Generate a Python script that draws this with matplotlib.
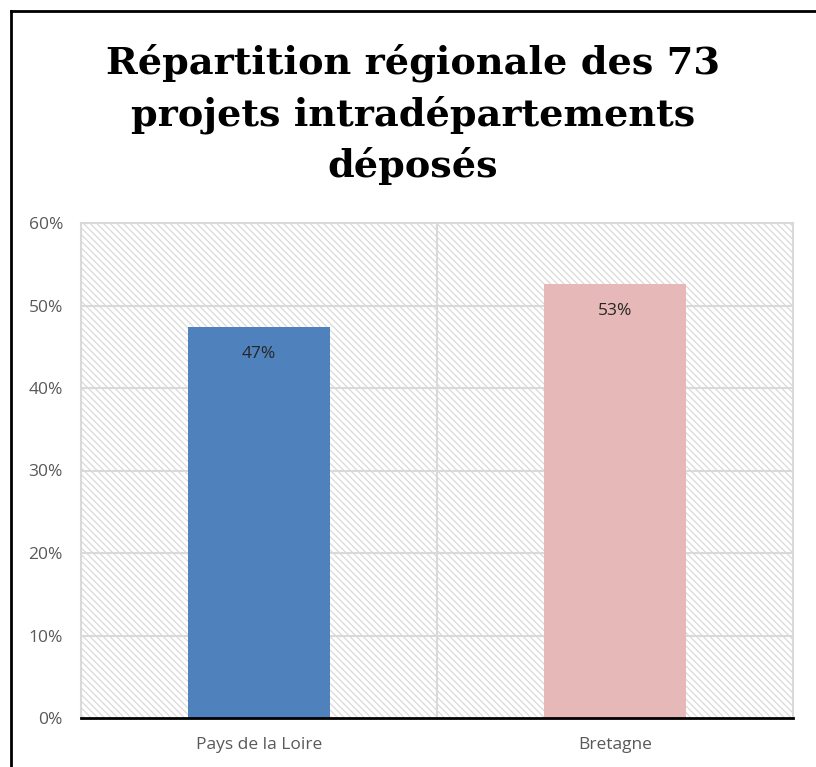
import matplotlib.pyplot as plt
from matplotlib.patches import Rectangle
from matplotlib.lines import Line2D
from matplotlib.ticker import PercentFormatter

# data
regions = ["Pays de la Loire", "Bretagne"]
shares = [0.474, 0.526]
share_labels = ["47%", "53%"]
bar_colors = ["#4F81BD", "#E6B9B8"]

title = "Répartition régionale des 73\nprojets intradépartements\ndéposés"

plt.rcParams["hatch.linewidth"] = 0.9

fig = plt.figure(figsize=(8.16, 7.67), dpi=100)

# outer chart border (only top and left visible, rest is cropped)
fig.add_artist(Line2D([11 / 816, 1.0], [1 - 11 / 767, 1 - 11 / 767],
                      transform=fig.transFigure, color="black", lw=2))
fig.add_artist(Line2D([11 / 816, 11 / 816], [0, 1 - 11 / 767],
                      transform=fig.transFigure, color="black", lw=2))

ax = fig.add_axes([81 / 816, 1 - 718 / 767, (793 - 81) / 816, (718 - 223) / 767])

# hatched plot area
ax.patch.set_visible(False)
bg = Rectangle((0, 0), 1, 1, transform=ax.transAxes, facecolor="white",
               edgecolor="#DADADA", hatch="\\\\\\\\\\", linewidth=0, zorder=0)
ax.add_patch(bg)

x = list(range(len(regions)))
bars = ax.bar(x, shares, width=0.4, color=bar_colors, zorder=3)

for b, lab in zip(bars, share_labels):
    ax.text(b.get_x() + b.get_width() / 2, b.get_height() - 0.033, lab,
            ha="center", va="center", fontsize=12.5, color="#262626",
            family="Open Sans", zorder=4)

ax.set_xlim(-0.5, 1.5)
ax.set_ylim(0, 0.6)
ax.set_yticks([0, 0.1, 0.2, 0.3, 0.4, 0.5, 0.6])
ax.yaxis.set_major_formatter(PercentFormatter(1.0, decimals=0))
ax.set_xticks(x)
ax.set_xticklabels(regions)

# grid lines
for y in [0.1, 0.2, 0.3, 0.4, 0.5]:
    ax.axhline(y, color="#D9D9D9", lw=1.5, zorder=1)
ax.axvline(0.5, color="#D9D9D9", lw=1.5, zorder=1)

for s in ["top", "right", "left"]:
    ax.spines[s].set_color("#D9D9D9")
    ax.spines[s].set_linewidth(1.5)
ax.spines["bottom"].set_color("black")
ax.spines["bottom"].set_linewidth(2)
ax.spines["bottom"].set_zorder(5)

ax.tick_params(length=0, labelsize=12.5, labelcolor="#595959")
ax.tick_params(axis="y", pad=13)
ax.tick_params(axis="x", pad=14)
for t in ax.get_xticklabels() + ax.get_yticklabels():
    t.set_family("Open Sans")

fig.text(413 / 816, 1 - 114 / 767, title, ha="center", va="center",
         fontsize=27.5, fontweight="bold", family="DejaVu Serif",
         linespacing=1.45)

fig.savefig("out.png", dpi=100)
